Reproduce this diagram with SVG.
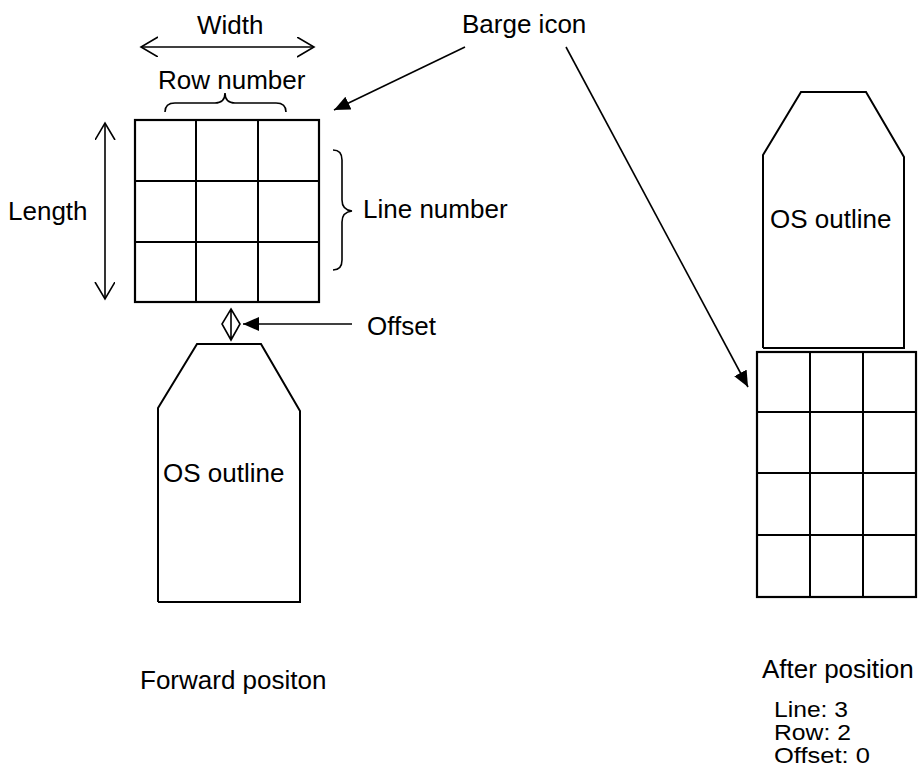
<svg xmlns="http://www.w3.org/2000/svg" width="918" height="781" viewBox="0 0 918 781">
<style>
text{font-family:"Liberation Sans",Arial,sans-serif;font-size:26px;fill:#000}
.sm{font-size:22px}
.ln{stroke:#000;stroke-width:2;fill:none}
.th{stroke:#000;stroke-width:1.6;fill:none}
.box{stroke:#000;stroke-width:2.2;fill:#fff}
</style>
<defs>
<marker id="fa" markerUnits="userSpaceOnUse" markerWidth="18" markerHeight="16" refX="16" refY="7" orient="auto">
<path d="M0,0 L16,7 L0,14 z" fill="#000"/>
</marker>
<marker id="oa" markerUnits="userSpaceOnUse" markerWidth="20" markerHeight="22" refX="17" refY="10" orient="auto-start-reverse">
<path d="M0,0 L17,10 L0,20" fill="none" stroke="#000" stroke-width="1.6"/>
</marker>
</defs>
<rect width="918" height="781" fill="#fff"/>

<g id="barge-forward">
<rect class="box" x="135" y="120" width="184" height="182"/>
<path class="ln" d="M196,120V302M258,120V302M135,181H319M135,242H319"/>
</g>

<g id="os-forward">
<path class="ln" d="M158,602V408L197,344H261L300,411V602H158"/>
<text x="163" y="482">OS outline</text>
</g>

<g id="os-after">
<path class="ln" d="M763,348V155L801,92H866L904,157V348H763"/>
<text x="770" y="228">OS outline</text>
</g>

<g id="barge-after">
<rect class="box" x="757" y="352" width="159" height="245"/>
<path class="ln" d="M810,352V597M863,352V597M757,412H916M757,473H916M757,535H916"/>
</g>

<g id="labels">
<text x="197" y="34">Width</text>
<text x="158" y="89">Row number</text>
<text x="462" y="33">Barge icon</text>
<text x="8" y="220">Length</text>
<text x="363" y="218">Line number</text>
<text x="367" y="335">Offset</text>
<text x="140" y="689">Forward positon</text>
<text x="762" y="678">After position</text>
<text class="sm" x="774" y="717" textLength="74" lengthAdjust="spacingAndGlyphs">Line: 3</text>
<text class="sm" x="774" y="740" textLength="77" lengthAdjust="spacingAndGlyphs">Row: 2</text>
<text class="sm" x="774" y="763" textLength="96" lengthAdjust="spacingAndGlyphs">Offset: 0</text>
</g>

<g id="connectors">
<line class="th" x1="141" y1="47" x2="314" y2="47" marker-start="url(#oa)" marker-end="url(#oa)"/>
<line class="th" x1="105" y1="123" x2="105" y2="299" marker-start="url(#oa)" marker-end="url(#oa)"/>
<path class="th" d="M165,112 Q165,103 175,103 H215 Q225,103 225,93 Q225,103 235,103 H276 Q286,103 286,112"/>
<path class="th" d="M333,150 Q342,150 342,160 V200 Q342,210 352,211 Q342,212 342,222 V260 Q342,270 333,270"/>
<path class="th" d="M231,309 L240,324 L231,340 L222,324 Z M231,309 V340"/>
<line class="th" x1="352" y1="324" x2="243" y2="324" marker-end="url(#fa)"/>
<line class="th" x1="465" y1="47" x2="334" y2="110" marker-end="url(#fa)"/>
<line class="th" x1="566" y1="47" x2="748" y2="387" marker-end="url(#fa)"/>
</g>
</svg>
